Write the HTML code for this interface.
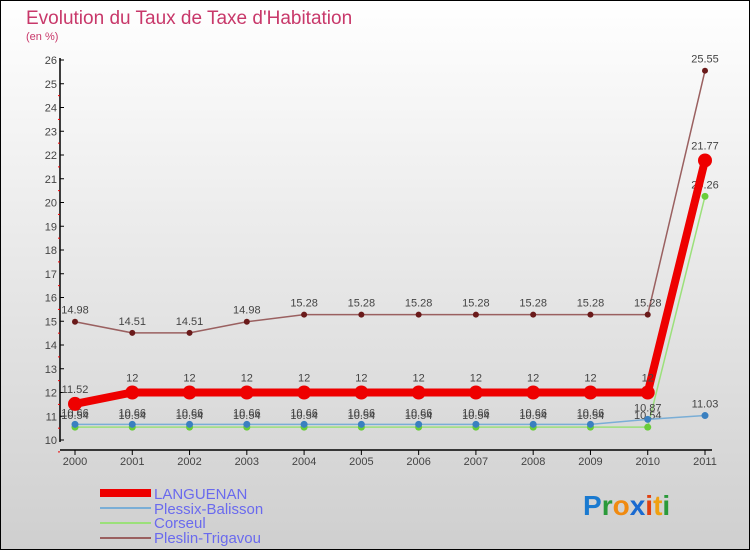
<!DOCTYPE html>
<html><head><meta charset="utf-8"><style>
body{margin:0}
#c{width:750px;height:550px;position:relative;overflow:hidden}
svg text{font-family:"Liberation Sans",sans-serif}
</style></head><body>
<div id="c">
<svg id="s" width="750" height="550" xmlns="http://www.w3.org/2000/svg">
<defs><linearGradient id="bg" x1="0" y1="0" x2="0" y2="1"><stop offset="0" stop-color="#ffffff"/><stop offset="1" stop-color="#cfcfcf"/></linearGradient></defs>
<rect x="0.5" y="0.5" width="749" height="549" fill="url(#bg)" stroke="#000"/>
<text x="26" y="24" font-size="19" fill="#c8386a">Evolution du Taux de Taxe d'Habitation</text>
<text x="26" y="40" font-size="11" fill="#c8386a">(en %)</text>
<g id="axes"></g><g id="series"></g>
<g>
<rect x="100" y="489" width="51" height="8" fill="#e00"/>
<text x="154" y="499" font-size="15" fill="#6a6aee">LANGUENAN</text>
<line x1="100" y1="508" x2="151" y2="508" stroke="#7aaed6" stroke-width="2"/>
<text x="154" y="514" font-size="15" fill="#6a6aee">Plessix-Balisson</text>
<line x1="100" y1="523" x2="151" y2="523" stroke="#9be07a" stroke-width="2"/>
<text x="154" y="528" font-size="15" fill="#6a6aee">Corseul</text>
<line x1="100" y1="538" x2="151" y2="538" stroke="#9a6060" stroke-width="2"/>
<text x="154" y="543" font-size="15" fill="#6a6aee">Pleslin-Trigavou</text>
</g>
<g font-size="28" font-weight="bold">
<text x="583" y="515"><tspan fill="#1a7ad0">P</tspan><tspan fill="#2a9a3a">r</tspan><tspan fill="#f08a10">o</tspan><tspan fill="#1a6ad0">x</tspan><tspan fill="#e04010">i</tspan><tspan fill="#f0a010">t</tspan><tspan fill="#2a9a3a">i</tspan></text>
</g>
</svg></div>
<script>
const years=[2000,2001,2002,2003,2004,2005,2006,2007,2008,2009,2010,2011];
const yTicks=[10,11,12,13,14,15,16,17,18,19,20,21,22,23,24,25,26];
const languenan=[11.52,12,12,12,12,12,12,12,12,12,12,21.77];
const plessix=[10.66,10.66,10.66,10.66,10.66,10.66,10.66,10.66,10.66,10.66,10.87,11.03];
const corseul=[10.54,10.54,10.54,10.54,10.54,10.54,10.54,10.54,10.54,10.54,10.54,20.26];
const pleslin=[14.98,14.51,14.51,14.98,15.28,15.28,15.28,15.28,15.28,15.28,15.28,25.55];
const NS="http://www.w3.org/2000/svg";
const X=i=>75+i*(630/11);
const Y=v=>440-(v-10)*23.75;
function mk(t,a,p){const e=document.createElementNS(NS,t);for(const k in a)e.setAttribute(k,a[k]);p.appendChild(e);return e;}
const ax=document.getElementById('axes');
const yl=mk('line',{x1:60,y1:58,x2:60,y2:442,stroke:'#000','stroke-width':1.5},ax);


yTicks.forEach(v=>{
 mk('line',{x1:60,y1:Y(v),x2:64,y2:Y(v),stroke:'#000'},ax);
 mk('line',{x1:58,y1:Y(v)+11.9,x2:60,y2:Y(v)+11.9,stroke:v<26?'#e00':'none'},ax);
 const t=mk('text',{x:57,y:Y(v)+4,'font-size':11,fill:'#444','text-anchor':'end'},ax);t.textContent=v;
 
 
});
const xl=mk('line',{x1:60,y1:450,x2:712,y2:450,stroke:'#000','stroke-width':1.5},ax);


years.forEach((y,i)=>{
 mk('line',{x1:X(i),y1:450,x2:X(i),y2:455,stroke:'#000'},ax);
 const t=mk('text',{x:X(i),y:465,'font-size':11,fill:'#444','text-anchor':'middle'},ax);t.textContent=y;
 
 
});
const sg=document.getElementById('series');
function series(vals,name,color,w,r,dot,lab){
 const g=mk('g',{},sg);
 
 
 mk('polyline',{points:vals.map((v,i)=>X(i)+','+Y(v)).join(' '),fill:'none',stroke:color,'stroke-width':w},g);
 vals.forEach((v,i)=>{
  const c=mk('circle',{cx:X(i),cy:Y(v),r:r,fill:dot},g);
  
  
  const t=mk('text',{x:X(i),y:Y(v)-8-(r>5?3:0),'font-size':11,fill:'#444','text-anchor':'middle'},g);t.textContent=v;
  
  
 });
}
series(pleslin,'pleslin','#9a6060',1.5,3,'#6a1a1a');
series(corseul,'corseul','#9be07a',1.5,3.5,'#6acc3a');
series(plessix,'plessix','#7aaed6',1.5,3.5,'#3a80c0');
series(languenan,'languenan','#e00',8,7,'#e00');
</script>
</body></html>
